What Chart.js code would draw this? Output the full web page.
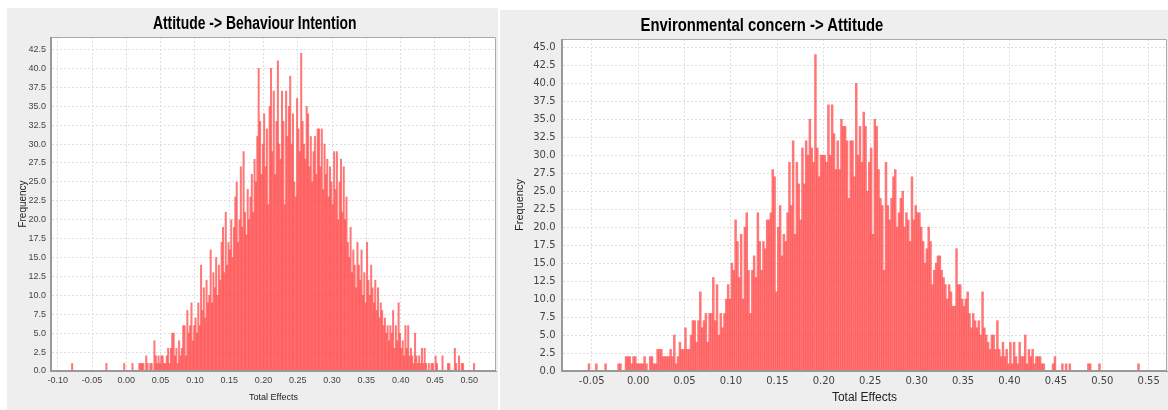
<!DOCTYPE html>
<html>
<head>
<meta charset="utf-8">
<script src="https://cdn.jsdelivr.net/npm/chart.js@4.4.1/dist/chart.umd.min.js"></script>
<style>
  html, body { margin: 0; padding: 0; background: #fff; }
  body { width: 1168px; height: 410px; position: relative; overflow: hidden; }
  .panel { position: absolute; background: #eeeeee; }
  .panel canvas { display: block; position: absolute; left: 0; top: 0; }
  .title {
    position: absolute; top: 4.5px; line-height: 18px; white-space: nowrap;
    font: bold 18px "Liberation Sans", Arial, sans-serif; color: #000;
    transform-origin: center center;
  }
</style>
</head>
<body>
<div class="panel" style="left:7px; top:8px; width:491px; height:402px;">
  <canvas id="attChart" width="491" height="402"></canvas>
  <div class="title" id="attTitle">Attitude -&gt; Behaviour Intention</div>
</div>
<div class="panel" style="left:500px; top:10px; width:668px; height:400px;">
  <canvas id="envChart" width="668" height="400"></canvas>
  <div class="title" id="envTitle">Environmental concern -&gt; Attitude</div>
</div>
<script>
// bootstrap histograms, one bar per 0.002 bin
const binWidth = 0.002;

// Attitude -> Behaviour Intention, first bin starts at -0.080
const attStart = -0.080;
const attCounts = [
  1, 0, 0, 0, 0, 0, 0, 0, 0, 0,
  0, 0, 0, 0, 0, 0, 0, 0, 0, 0,
  0, 0, 0, 0, 0, 1, 0, 0, 0, 0,
  0, 0, 0, 0, 0, 0, 0, 0, 1, 0,
  0, 0, 0, 0, 1, 0, 0, 0, 0, 1,
  1, 1, 1, 0, 2, 1, 0, 1, 1, 0,
  4, 2, 1, 2, 1, 2, 2, 1, 1, 2,
  3, 1, 3, 5, 5, 2, 3, 1, 4, 2,
  3, 6, 6, 2, 8, 5, 6, 9, 4, 6,
  7, 5, 9, 6, 14, 8, 11, 7, 12, 9,
  10, 16, 9, 13, 11, 15, 10, 14, 12, 17,
  19, 13, 21, 14, 17, 16, 20, 15, 19, 23,
  25, 17, 20, 27, 19, 29, 21, 18, 24, 20,
  23, 26, 21, 28, 25, 31, 40, 33, 26, 30,
  34, 27, 32, 22, 35, 40, 29, 37, 26, 33,
  41, 30, 28, 37, 33, 22, 37, 31, 35, 39,
  30, 34, 25, 23, 36, 32, 29, 42, 33, 30,
  28, 35, 34, 27, 31, 25, 29, 31, 26, 32,
  32, 27, 32, 24, 30, 26, 28, 23, 27, 25,
  22, 29, 24, 29, 20, 25, 28, 21, 27, 20,
  23, 17, 15, 19, 13, 16, 14, 11, 17, 14,
  12, 16, 10, 13, 9, 17, 12, 10, 14, 11,
  9, 12, 8, 11, 7, 9, 8, 6, 7, 5,
  6, 4, 6, 5, 8, 3, 6, 4, 9, 5,
  3, 4, 2, 6, 3, 6, 2, 3, 2, 1,
  5, 2, 1, 2, 1, 3, 1, 3, 1, 0,
  1, 0, 1, 1, 0, 2, 1, 0, 0, 0,
  2, 0, 0, 0, 1, 1, 0, 0, 0, 3,
  1, 0, 2, 0, 1, 1, 0, 0, 0, 0,
  0, 0, 0, 1, 0, 0
];

// Environmental concern -> Attitude, first bin starts at -0.054
const envStart = -0.054;
const envCounts = [
  1, 0, 0, 0, 1, 0, 0, 0, 0, 1,
  0, 0, 0, 0, 0, 0, 1, 1, 0, 0,
  2, 2, 2, 1, 2, 2, 1, 1, 1, 1,
  2, 1, 0, 2, 2, 1, 1, 3, 3, 3,
  2, 2, 2, 2, 3, 2, 5, 1, 2, 4,
  3, 3, 6, 3, 3, 5, 7, 7, 4, 7,
  11, 6, 7, 8, 4, 8, 8, 13, 7, 12,
  5, 8, 6, 8, 10, 12, 10, 15, 14, 21,
  18, 13, 19, 10, 20, 22, 14, 8, 14, 16,
  13, 22, 18, 14, 18, 17, 21, 21, 22, 28,
  27, 11, 20, 23, 16, 19, 18, 22, 29, 23,
  32, 19, 29, 26, 21, 31, 26, 32, 30, 35,
  31, 29, 44, 31, 27, 30, 30, 30, 29, 37,
  30, 37, 33, 28, 32, 28, 35, 34, 34, 32,
  24, 32, 32, 27, 40, 30, 34, 29, 36, 34,
  25, 29, 31, 19, 35, 34, 28, 24, 23, 14,
  29, 23, 21, 24, 27, 28, 20, 22, 24, 25,
  20, 22, 21, 18, 27, 21, 23, 22, 22, 20,
  18, 15, 17, 20, 18, 12, 14, 15, 16, 16,
  14, 13, 12, 10, 12, 11, 9, 9, 17, 12,
  12, 10, 9, 10, 11, 8, 6, 8, 7, 6,
  7, 5, 11, 6, 5, 4, 3, 5, 5, 3,
  7, 3, 2, 4, 2, 3, 1, 4, 1, 4,
  2, 1, 4, 2, 2, 5, 1, 3, 2, 3,
  1, 2, 2, 2, 1, 1, 0, 0, 0, 0,
  1, 2, 0, 0, 0, 1, 0, 1, 0, 1,
  0, 0, 0, 0, 0, 0, 0, 0, 0, 1,
  1, 0, 0, 0, 0, 1, 0, 0, 0, 0,
  0, 0, 0, 0, 0, 0, 0, 0, 0, 0,
  0, 0, 0, 0, 0, 0, 1
];

const attXTicks = [-0.10, -0.05, 0.00, 0.05, 0.10, 0.15, 0.20, 0.25, 0.30, 0.35, 0.40, 0.45, 0.50];
const envXTicks = [-0.05, 0.00, 0.05, 0.10, 0.15, 0.20, 0.25, 0.30, 0.35, 0.40, 0.45, 0.50, 0.55];
const attYTicks = [0, 2.5, 5, 7.5, 10, 12.5, 15, 17.5, 20, 22.5, 25, 27.5, 30, 32.5, 35, 37.5, 40, 42.5];
const envYTicks = [0, 2.5, 5, 7.5, 10, 12.5, 15, 17.5, 20, 22.5, 25, 27.5, 30, 32.5, 35, 37.5, 40, 42.5, 45];

const barColor = 'rgba(255, 72, 72, 0.74)';
const gridColor = '#dedede';

// white plot area plus a grey frame around it
const plotFrame = {
  id: 'plotFrame',
  beforeDraw(chart) {
    const { ctx, chartArea: a } = chart;
    ctx.save();
    ctx.fillStyle = '#ffffff';
    ctx.fillRect(a.left, a.top, a.right - a.left, a.bottom - a.top);
    ctx.restore();
  },
  afterDraw(chart) {
    const { ctx, chartArea: a } = chart;
    ctx.save();
    ctx.strokeStyle = '#aaaaaa';
    ctx.lineWidth = 1;
    ctx.beginPath();
    ctx.moveTo(a.left, a.top + 0.5);
    ctx.lineTo(a.right - 0.5, a.top + 0.5);
    ctx.lineTo(a.right - 0.5, a.bottom);
    ctx.stroke();
    ctx.strokeStyle = '#999999';
    ctx.lineWidth = 2;
    ctx.beginPath();
    ctx.moveTo(a.left, a.top);
    ctx.lineTo(a.left, a.bottom);
    ctx.lineTo(a.right, a.bottom);
    ctx.stroke();
    ctx.restore();
  }
};

function histogram(canvasId, start, counts, o) {
  const points = counts.map((c, i) => ({ x: start + (i + 0.5) * binWidth, y: c }));
  return new Chart(document.getElementById(canvasId), {
    type: 'bar',
    data: {
      datasets: [{
        data: points,
        backgroundColor: barColor,
        borderWidth: 0,
        barPercentage: 1,
        categoryPercentage: 1
      }]
    },
    options: {
      responsive: false,
      animation: false,
      layout: { padding: o.padding },
      plugins: {
        legend: { display: false },
        tooltip: { enabled: false },
        title: { display: false }
      },
      scales: {
        x: {
          type: 'linear',
          min: o.xMin,
          max: o.xMax,
          offset: false,
          afterBuildTicks: s => { s.ticks = o.xTicks.map(v => ({ value: v })); },
          afterFit: s => { s.height = o.xHeight; },
          ticks: {
            font: o.tickFont, color: '#444', padding: o.xTickPad,
            maxRotation: 0, autoSkip: false,
            callback: v => v.toFixed(2)
          },
          grid: { color: gridColor, drawTicks: false, offset: false },
          border: { display: true, color: '#999', width: 1, dash: [2, 2] },
          title: {
            display: true, text: 'Total Effects', color: '#222',
            font: o.xTitleFont, padding: { top: 0, bottom: o.xTitlePad }
          }
        },
        y: {
          min: 0,
          max: o.yMax,
          afterBuildTicks: s => { s.ticks = o.yTicks.map(v => ({ value: v })); },
          afterFit: s => { s.width = o.yWidth; },
          ticks: {
            font: o.tickFont, color: '#444', padding: o.yTickPad,
            callback: v => v.toFixed(1)
          },
          grid: { color: gridColor, drawTicks: false },
          border: { display: true, color: '#999', width: 1, dash: [2, 2] },
          title: {
            display: true, text: 'Frequency', color: '#222',
            font: o.yTitleFont, padding: { top: o.yTitlePad, bottom: 0 }
          }
        }
      }
    },
    plugins: [plotFrame]
  });
}

histogram('attChart', attStart, attCounts, {
  padding: { top: 29, right: 2, bottom: 0, left: 0 },
  xMin: -0.1098, xMax: 0.539, xTicks: attXTicks,
  yMax: 44.15, yTicks: attYTicks,
  xHeight: 39, yWidth: 44,
  tickFont: { family: 'Liberation Sans', size: 9 },
  xTickPad: 4.5, yTickPad: 5,
  xTitleFont: { family: 'Liberation Sans', size: 9 }, xTitlePad: 6.6,
  yTitleFont: { family: 'Liberation Sans', size: 10 }, yTitlePad: 10
});

histogram('envChart', envStart, envCounts, {
  padding: { top: 29, right: 1, bottom: 0, left: 0 },
  xMin: -0.082, xMax: 0.5697, xTicks: envXTicks,
  yMax: 46.15, yTicks: envYTicks,
  xHeight: 39, yWidth: 62,
  tickFont: { family: 'DejaVu Sans', size: 10 },
  xTickPad: 4, yTickPad: 6.5,
  xTitleFont: { family: 'Liberation Sans', size: 12 }, xTitlePad: 5.3,
  yTitleFont: { family: 'Liberation Sans', size: 11 }, yTitlePad: 13.2
});

// condensed bold headings, centred over their spot in each panel
function placeTitle(id, centerX, targetWidth) {
  const el = document.getElementById(id);
  const w = el.offsetWidth;
  el.style.left = (centerX - w / 2) + 'px';
  el.style.transform = 'scaleX(' + (targetWidth / w) + ')';
}
placeTitle('attTitle', 248, 204);
placeTitle('envTitle', 261.5, 243);
</script>
</body>
</html>
